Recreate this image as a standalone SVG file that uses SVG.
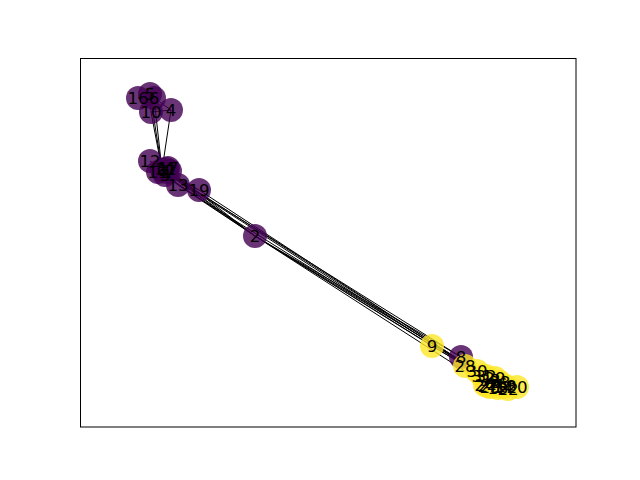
<svg xmlns="http://www.w3.org/2000/svg" width="640" height="480" viewBox="0 0 640 480">
<style>
.e{stroke:#000;stroke-width:1;fill:none}
.p{fill:#440154;fill-opacity:0.8}
.y{fill:#fde725;fill-opacity:0.8}
text{font-family:"DejaVu Sans",sans-serif;font-size:16.67px;text-anchor:middle;fill:#000}
</style>
<rect x="0" y="0" width="640" height="480" fill="#fff"/>
<g id="connectors" class="e">
<path d="M162 170L167 172M162 170L255 236M162 170L165 175M162 170L171 110M162 170L150 94M162 170L154 98M162 170L170 171M162 170L461 357M162 170L151 112M162 170L158 172M162 170L150 161M162 170L178 185M162 170L168 168M162 170L199 190M162 170L166 169M162 170L482 376"/>
<path d="M167 172L255 236M167 172L165 175M167 172L170 171M167 172L178 185M167 172L168 168M167 172L199 190M167 172L166 169M167 172L477 371"/>
<path d="M255 236L165 175M255 236L170 171M255 236L461 357M255 236L432 346M255 236L178 185M255 236L488 386M255 236L465 366M255 236L486 376"/>
<path d="M165 175L170 171M165 175L150 161M165 175L178 185"/>
<path d="M171 110L154 98M171 110L151 112M150 94L154 98M150 94L151 112M150 94L138 98M154 98L138 98"/>
<path d="M461 357L477 371M461 357L486 376M461 357L490 380M432 346L490 380M178 185L490 380M199 190L490 380"/>
<path d="M503 387L486 376M503 387L490 380M498 388L486 376M498 388L490 380M506 386L486 376M506 386L490 380M517 387L486 376M517 387L490 380M508 389L486 376M508 389L490 380"/>
<path d="M500 382L490 387M500 382L488 386M500 382L495 378M500 382L486 376M500 382L490 380M485 385L490 387M485 385L488 386M485 385L482 376M490 387L482 376"/>
<path d="M497 384L495 378M497 384L490 380M488 386L490 380M465 366L482 376M465 366L490 380M495 378L486 376M495 378L490 380M477 371L486 376M477 371L490 380M482 376L486 376M482 376L490 380M486 376L490 380"/>
</g>
<g id="nodes">
<g id="n0"><circle class="p" cx="162" cy="170" r="12"/></g>
<g id="n1"><circle class="p" cx="167" cy="172" r="12"/></g>
<g id="n2"><circle class="p" cx="255" cy="236" r="12"/></g>
<g id="n3"><circle class="p" cx="165" cy="175" r="12"/></g>
<g id="n4"><circle class="p" cx="171" cy="110" r="12"/></g>
<g id="n5"><circle class="p" cx="150" cy="94" r="12"/></g>
<g id="n6"><circle class="p" cx="154" cy="98" r="12"/></g>
<g id="n7"><circle class="p" cx="170" cy="171" r="12"/></g>
<g id="n8"><circle class="p" cx="461" cy="357" r="12"/></g>
<g id="n9"><circle class="y" cx="432" cy="346" r="12"/></g>
<g id="n10"><circle class="p" cx="151" cy="112" r="12"/></g>
<g id="n11"><circle class="p" cx="158" cy="172" r="12"/></g>
<g id="n12"><circle class="p" cx="150" cy="161" r="12"/></g>
<g id="n13"><circle class="p" cx="178" cy="185" r="12"/></g>
<g id="n14"><circle class="y" cx="503" cy="387" r="12"/></g>
<g id="n15"><circle class="y" cx="498" cy="388" r="12"/></g>
<g id="n16"><circle class="p" cx="138" cy="98" r="12"/></g>
<g id="n17"><circle class="p" cx="168" cy="168" r="12"/></g>
<g id="n18"><circle class="y" cx="506" cy="386" r="12"/></g>
<g id="n19"><circle class="p" cx="199" cy="190" r="12"/></g>
<g id="n20"><circle class="y" cx="517" cy="387" r="12"/></g>
<g id="n21"><circle class="p" cx="166" cy="169" r="12"/></g>
<g id="n22"><circle class="y" cx="508" cy="389" r="12"/></g>
<g id="n23"><circle class="y" cx="500" cy="382" r="12"/></g>
<g id="n24"><circle class="y" cx="485" cy="385" r="12"/></g>
<g id="n25"><circle class="y" cx="490" cy="387" r="12"/></g>
<g id="n26"><circle class="y" cx="497" cy="384" r="12"/></g>
<g id="n27"><circle class="y" cx="488" cy="386" r="12"/></g>
<g id="n28"><circle class="y" cx="465" cy="366" r="12"/></g>
<g id="n29"><circle class="y" cx="495" cy="378" r="12"/></g>
<g id="n30"><circle class="y" cx="477" cy="371" r="12"/></g>
<g id="n31"><circle class="y" cx="482" cy="376" r="12"/></g>
<g id="n32"><circle class="y" cx="486" cy="376" r="12"/></g>
<g id="n33"><circle class="y" cx="490" cy="380" r="12"/></g>
</g>
<g id="labels">
<text x="162" y="176">0</text>
<text x="167" y="178">1</text>
<text x="255" y="242">2</text>
<text x="165" y="181">3</text>
<text x="171" y="116">4</text>
<text x="150" y="100">5</text>
<text x="154" y="104">6</text>
<text x="170" y="177">7</text>
<text x="461" y="363">8</text>
<text x="432" y="352">9</text>
<text x="151" y="118">10</text>
<text x="158" y="178">11</text>
<text x="150" y="167">12</text>
<text x="178" y="191">13</text>
<text x="503" y="393">14</text>
<text x="498" y="394">15</text>
<text x="138" y="104">16</text>
<text x="168" y="174">17</text>
<text x="506" y="392">18</text>
<text x="199" y="196">19</text>
<text x="517" y="393">20</text>
<text x="166" y="175">21</text>
<text x="508" y="395">22</text>
<text x="500" y="388">23</text>
<text x="485" y="391">24</text>
<text x="490" y="393">25</text>
<text x="497" y="390">26</text>
<text x="488" y="392">27</text>
<text x="465" y="372">28</text>
<text x="495" y="384">29</text>
<text x="477" y="377">30</text>
<text x="482" y="382">31</text>
<text x="486" y="382">32</text>
<text x="490" y="386">33</text>
</g>
<rect x="80.5" y="58.5" width="495.5" height="368.5" fill="none" stroke="#000" stroke-width="1"/>
</svg>
